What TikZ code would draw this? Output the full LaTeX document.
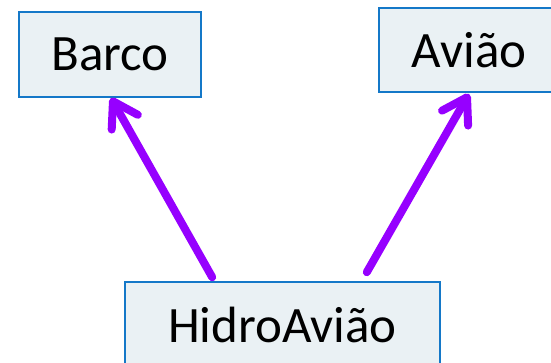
\documentclass[tikz,border=0pt]{standalone}
\usepackage{fontspec}
\setmainfont{Carlito}
\usetikzlibrary{arrows.meta}
\definecolor{boxfill}{RGB}{234,241,244}
\definecolor{boxline}{RGB}{20,120,200}
\definecolor{inherit}{RGB}{150,0,255}
\tikzset{
  classbox/.style={draw=boxline, fill=boxfill, line width=1.6pt,
    minimum height=85pt, inner sep=0pt,
    font=\fontsize{51}{61}\selectfont},
  generalize/.style={draw=inherit, line width=8pt, line cap=round,
    -{Straight Barb[length=24pt,width=30pt,line cap=round,line join=round]}}
}
\begin{document}
\begin{tikzpicture}[x=1pt,y=-1pt]
  \useasboundingbox (0,0) rectangle (551,363);
  \clip (0,0) rectangle (551,363);
  \fill[white] (0,0) rectangle (551,363);
  % classes
  \node[classbox, minimum width=182pt] (barco) at (110,54.5) {Barco};
  \node[classbox, minimum width=180pt, minimum height=84pt] (aviao) at (469,50) {Avião};
  \node[classbox, minimum width=315pt] (hidro) at (282.5,324.5) {HidroAvião};
  % inheritance arrows
  \draw[generalize] ([xshift=88pt,yshift=4pt]hidro.north west) -- ([xshift=1pt]barco.south);
  \draw[generalize] ([xshift=-74pt,yshift=9pt]hidro.north east) -- ([yshift=-1pt]aviao.south);
\end{tikzpicture}
\end{document}
